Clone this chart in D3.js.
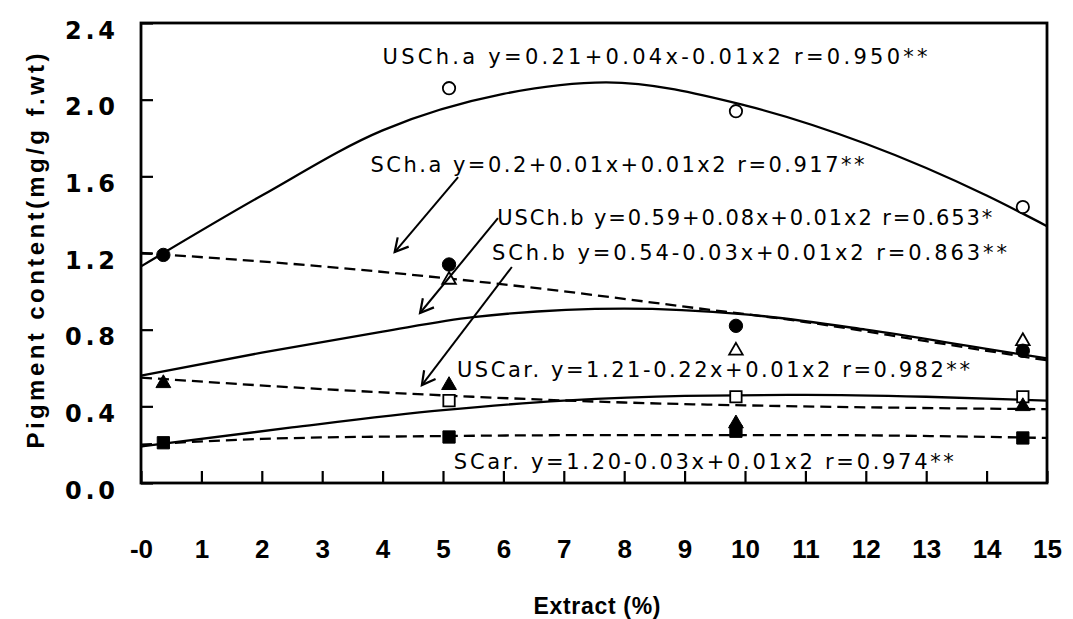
<!DOCTYPE html>
<html><head><meta charset="utf-8">
<script src="https://cdn.jsdelivr.net/npm/d3@7/dist/d3.min.js"></script>
<style>body{margin:0;background:#fff}svg{display:block}</style>
</head><body>
<svg id="chart" width="1073" height="619"></svg>
<script>
// ---------------- data ----------------
const xTickValues = [0,1,2,3,4,5,6,7,8,9,10,11,12,13,14,15];
const xTickLabels = ["-0","1","2","3","4","5","6","7","8","9","10","11","12","13","14","15"];
const yTickValues = [0,0.4,0.8,1.2,1.6,2.0,2.4];
const yTickLabels = ["0.0","0.4","0.8","1.2","1.6","2.0","2.4"];

// observed points (x positions where markers sit)
const sampleX = [0.37, 5.1, 9.85, 14.6];
const usChA = [null, 2.06, 1.94, 1.44];   // open circle
const sChA  = [1.19, 1.14, 0.82, 0.69];   // filled circle
const usChB = [null, 1.06, 0.69, 0.74];   // open triangle
const sChB  = [0.52, 0.51, 0.31, 0.40];   // filled triangle
const usCar = [null, 0.43, 0.45, 0.45];   // open square
const sCar  = [0.21, 0.24, 0.27, 0.235];  // filled square

// fitted regression curves
const fitUsChAX = [0, 2, 4, 6, 7.7, 10, 12, 14, 15];
const fitUsChAY = [1.13, 1.50, 1.84, 2.03, 2.09, 1.97, 1.77, 1.50, 1.34];
const fitSChAX  = [0, 3, 5, 7, 9, 11, 13, 15];
const fitSChAY  = [1.20, 1.13, 1.07, 1.00, 0.92, 0.84, 0.74, 0.64];
const fitUsChBX = [0, 2, 4, 5.5, 8, 10, 12, 14, 15];
const fitUsChBY = [0.56, 0.68, 0.79, 0.865, 0.91, 0.88, 0.80, 0.70, 0.65];
const fitSChBX  = [0, 3, 5.5, 8, 10, 12, 15];
const fitSChBY  = [0.55, 0.49, 0.45, 0.42, 0.405, 0.395, 0.385];
const fitUsCarX = [0, 2.5, 5, 7, 9, 11, 13, 15];
const fitUsCarY = [0.19, 0.29, 0.38, 0.43, 0.455, 0.46, 0.45, 0.43];
const fitSCarX  = [0, 2, 5, 8, 11, 15];
const fitSCarY  = [0.20, 0.23, 0.245, 0.25, 0.25, 0.235];

// equation labels
const eqTexts = [
  "USCh.a y=0.21+0.04x-0.01x2 r=0.950**",
  "SCh.a y=0.2+0.01x+0.01x2 r=0.917**",
  "USCh.b y=0.59+0.08x+0.01x2 r=0.653*",
  "SCh.b y=0.54-0.03x+0.01x2 r=0.863**",
  "USCar. y=1.21-0.22x+0.01x2 r=0.982**",
  "SCar. y=1.20-0.03x+0.01x2 r=0.974**"
];
const yTitle = "Pigment content(mg/g f.wt)";
const xTitle = "Extract (%)";

// ---------------- layout ----------------
const W = 1073, H = 619;
const plot = {left: 141, right: 1047, top: 23, bottom: 483};
// equation label anchors (data units) and widths (px)
const eqAnchorX = [4.00, 3.80, 5.90, 5.81, 5.23, 5.18];
const eqAnchorY = [2.185, 1.623, 1.346, 1.163, 0.553, 0.074];
const eqWidths  = [545, 494, 495, 515, 513, 500];
// arrows (data units): from -> to (tip)
const arrowFromX = [5.25, 5.91, 6.14], arrowFromY = [1.596, 1.382, 1.127];
const arrowToX   = [4.20, 4.62, 4.65], arrowToY   = [1.205, 0.887, 0.511];

const svg = d3.select("#chart");
const x = d3.scaleLinear().domain([0, 15]).range([plot.left, plot.right]);
const y = d3.scaleLinear().domain([0, 2.4]).range([plot.bottom, plot.top]);

svg.append("rect").attr("width", W).attr("height", H).attr("fill", "#fff");

// series table
const series = [
  {name:"USCh.a", vals: usChA, sym: d3.symbolCircle,   size: 120, open: true,  fx: fitUsChAX, fy: fitUsChAY, dash: null},
  {name:"SCh.a",  vals: sChA,  sym: d3.symbolCircle,   size: 140, open: false, fx: fitSChAX,  fy: fitSChAY,  dash: "11,6"},
  {name:"USCh.b", vals: usChB, sym: d3.symbolTriangle, size: 80,  open: true,  fx: fitUsChBX, fy: fitUsChBY, dash: null},
  {name:"SCh.b",  vals: sChB,  sym: d3.symbolTriangle, size: 95,  open: false, fx: fitSChBX,  fy: fitSChBY,  dash: "11,6"},
  {name:"USCar",  vals: usCar, sym: d3.symbolSquare,   size: 130, open: true,  fx: fitUsCarX, fy: fitUsCarY, dash: null},
  {name:"SCar",   vals: sCar,  sym: d3.symbolSquare,   size: 150, open: false, fx: fitSCarX,  fy: fitSCarY,  dash: "11,6"}
];

const line = d3.line().x(d => x(d[0])).y(d => y(d[1])).curve(d3.curveMonotoneX);

const gPlot = svg.append("g");
series.forEach(s => {
  gPlot.append("path")
    .datum(s.fx.map((v, i) => [v, s.fy[i]]))
    .attr("d", line)
    .attr("fill", "none")
    .attr("stroke", "#000")
    .attr("stroke-width", 2.3)
    .attr("stroke-dasharray", s.dash);
});

// markers: open first, filled on top
[...series.filter(s => s.open), ...series.filter(s => !s.open)].forEach(s => {
  const pts = sampleX.map((v, i) => [v, s.vals[i]]).filter(d => d[1] != null);
  gPlot.selectAll(null).data(pts).enter().append("path")
    .attr("d", d3.symbol().type(s.sym).size(s.size))
    .attr("transform", d => `translate(${x(d[0])},${y(d[1])})`)
    .attr("fill", s.open ? "#fff" : "#000")
    .attr("stroke", "#000")
    .attr("stroke-width", s.open ? 1.8 : 1);
});

// arrows
arrowFromX.forEach((fx, i) => {
  const x1 = x(fx), y1 = y(arrowFromY[i]), x2 = x(arrowToX[i]), y2 = y(arrowToY[i]);
  const a = Math.atan2(y1 - y2, x1 - x2);
  const L = 15, sp = 0.5;
  gPlot.append("line").attr("x1", x1).attr("y1", y1).attr("x2", x2).attr("y2", y2)
    .attr("stroke", "#000").attr("stroke-width", 2);
  gPlot.append("path")
    .attr("d", `M${x2 + L*Math.cos(a+sp)},${y2 + L*Math.sin(a+sp)}L${x2},${y2}L${x2 + L*Math.cos(a-sp)},${y2 + L*Math.sin(a-sp)}`)
    .attr("fill", "none").attr("stroke", "#000").attr("stroke-width", 2.2);
});

// equation labels
eqTexts.forEach((t, i) => {
  svg.append("text")
    .attr("x", x(eqAnchorX[i])).attr("y", y(eqAnchorY[i]))
    .attr("textLength", eqWidths[i]).attr("lengthAdjust", "spacing")
    .attr("font-family", "DejaVu Sans, sans-serif")
    .attr("font-size", 21).attr("fill", "#000")
    .text(t);
});

// axes (inward ticks)
const yAxis = d3.axisLeft(y).tickValues(yTickValues).tickSize(-12)
  .tickFormat((d, i) => yTickLabels[i]);
const gy = svg.append("g").attr("transform", `translate(${plot.left},0)`).call(yAxis);
gy.select(".domain").remove();
gy.selectAll(".tick line").attr("stroke", "#000").attr("stroke-width", 2.2);
gy.selectAll(".tick text")
  .attr("x", 115 - plot.left).attr("dy", null).attr("y", 15)
  .attr("text-anchor", "end")
  .attr("textLength", 50).attr("lengthAdjust", "spacing")
  .attr("font-family", "DejaVu Sans, sans-serif").attr("font-weight", "bold")
  .attr("font-size", 24).attr("fill", "#000");

const xAxis = d3.axisBottom(x).tickValues(xTickValues).tickSize(-12)
  .tickFormat((d, i) => xTickLabels[i]);
const gx = svg.append("g").attr("transform", `translate(0,${plot.bottom})`).call(xAxis);
gx.select(".domain").remove();
gx.selectAll(".tick line").attr("stroke", "#000").attr("stroke-width", 2.2);
gx.selectAll(".tick text")
  .attr("y", 75).attr("dy", null)
  .attr("font-family", "Liberation Sans, Arial, sans-serif").attr("font-weight", "bold")
  .attr("font-size", 26).attr("fill", "#000");

// frame
svg.append("rect")
  .attr("x", plot.left).attr("y", plot.top)
  .attr("width", plot.right - plot.left).attr("height", plot.bottom - plot.top)
  .attr("fill", "none").attr("stroke", "#000").attr("stroke-width", 2.8);

// titles
svg.append("text")
  .attr("transform", `translate(44,251) rotate(-90)`)
  .attr("text-anchor", "middle")
  .attr("textLength", 395).attr("lengthAdjust", "spacing")
  .attr("font-family", "Liberation Sans, Arial, sans-serif").attr("font-weight", "bold")
  .attr("font-size", 24).attr("fill", "#000")
  .text(yTitle);

svg.append("text")
  .attr("x", 597).attr("y", 614)
  .attr("text-anchor", "middle")
  .attr("textLength", 127).attr("lengthAdjust", "spacing")
  .attr("font-family", "Liberation Sans, Arial, sans-serif").attr("font-weight", "bold")
  .attr("font-size", 23).attr("fill", "#000")
  .text(xTitle);
</script>
</body></html>
